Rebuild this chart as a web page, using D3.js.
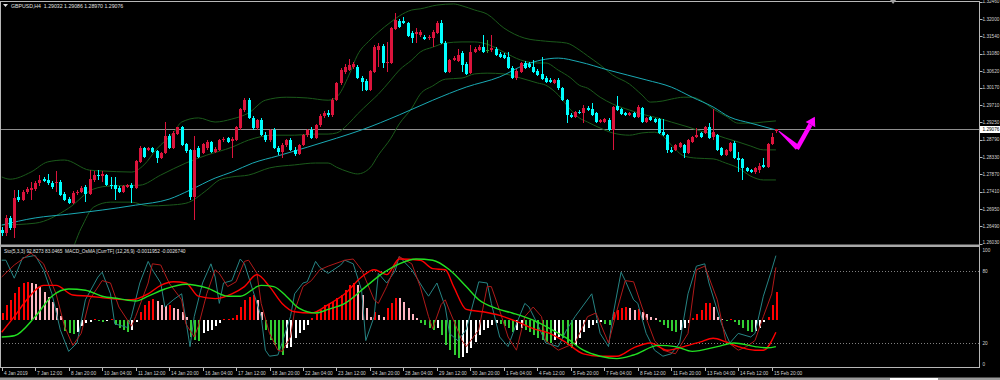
<!DOCTYPE html>
<html>
<head>
<meta charset="utf-8">
<script src="https://cdn.jsdelivr.net/npm/d3@7/dist/d3.min.js"></script>
<style>
html,body{margin:0;padding:0;background:#000;overflow:hidden;}
svg{display:block;}
text{font-family:"Liberation Sans",Arial,sans-serif;}
</style>
</head>
<body>
<svg id="chart" width="1000" height="380"></svg>
<script>
// ---------------- DATA ----------------
const symbolHeader = "GBPUSD,H4  1.29032 1.29086 1.28970 1.29076";
const subHeader = "Sto(5,3,3) 92.8273 83.0465  MACD_OsMA [CurrTF] (12,26,9) -0.0011952 -0.0026740";
const lastPrice = 1.29076;

// [open, high, low, close] per H4 bar
const candles = [
[1.2639,1.2647,1.2623,1.2631],[1.2631,1.2679,1.2623,1.2671],[1.2671,1.2676,1.2639,1.2644],[1.2644,1.2745,1.2617,1.2724],[1.2726,1.2745,1.2713,1.2718],
[1.2718,1.2745,1.2716,1.2740],[1.2740,1.2753,1.2734,1.2748],[1.2745,1.2766,1.2718,1.2750],[1.2748,1.2769,1.2742,1.2764],[1.2764,1.2785,1.2756,1.2772],
[1.2774,1.2780,1.2766,1.2769],[1.2772,1.2788,1.2758,1.2764],[1.2764,1.2769,1.2748,1.2753],[1.2764,1.2796,1.2740,1.2766],[1.2766,1.2772,1.2729,1.2732],
[1.2734,1.2740,1.2716,1.2718],[1.2721,1.2726,1.2708,1.2710],[1.2710,1.2742,1.2708,1.2737],[1.2737,1.2745,1.2732,1.2740],[1.2740,1.2756,1.2737,1.2750],
[1.2753,1.2758,1.2713,1.2734],[1.2734,1.2798,1.2732,1.2774],[1.2772,1.2796,1.2766,1.2785],[1.2785,1.2798,1.2772,1.2782],[1.2782,1.2796,1.2766,1.2788],
[1.2785,1.2788,1.2756,1.2758],[1.2758,1.2780,1.2748,1.2756],[1.2758,1.2780,1.2718,1.2748],[1.2750,1.2756,1.2737,1.2740],[1.2740,1.2758,1.2737,1.2756],
[1.2753,1.2761,1.2750,1.2758],[1.2758,1.2764,1.2710,1.2750],[1.2750,1.2825,1.2748,1.2822],[1.2820,1.2862,1.2817,1.2857],[1.2857,1.2859,1.2830,1.2833],
[1.2852,1.2859,1.2849,1.2857],[1.2857,1.2859,1.2844,1.2846],[1.2849,1.2852,1.2817,1.2830],[1.2830,1.2846,1.2828,1.2844],[1.2844,1.2926,1.2841,1.2889],
[1.2889,1.2894,1.2854,1.2857],[1.2857,1.2902,1.2854,1.2897],[1.2894,1.2913,1.2891,1.2913],[1.2913,1.2915,1.2862,1.2865],[1.2867,1.2870,1.2844,1.2849],
[1.2852,1.2854,1.2718,1.2726],[1.2726,1.2889,1.2665,1.2852],[1.2857,1.2862,1.2830,1.2833],[1.2844,1.2870,1.2841,1.2867],[1.2857,1.2878,1.2852,1.2873],
[1.2873,1.2875,1.2844,1.2846],[1.2846,1.2859,1.2844,1.2854],[1.2852,1.2881,1.2849,1.2878],[1.2878,1.2886,1.2873,1.2881],[1.2883,1.2886,1.2870,1.2873],
[1.2875,1.2886,1.2830,1.2881],[1.2878,1.2915,1.2875,1.2913],[1.2910,1.2963,1.2905,1.2961],[1.2958,1.2990,1.2953,1.2984],[1.2984,1.2990,1.2934,1.2937],
[1.2937,1.2942,1.2905,1.2910],[1.2910,1.2934,1.2905,1.2931],[1.2931,1.2937,1.2889,1.2891],[1.2891,1.2899,1.2873,1.2878],[1.2878,1.2907,1.2873,1.2905],
[1.2905,1.2910,1.2854,1.2857],[1.2857,1.2862,1.2838,1.2846],[1.2846,1.2870,1.2830,1.2865],[1.2865,1.2881,1.2859,1.2878],[1.2878,1.2883,1.2849,1.2852],
[1.2852,1.2859,1.2836,1.2841],[1.2841,1.2867,1.2838,1.2865],[1.2865,1.2894,1.2862,1.2891],[1.2891,1.2907,1.2886,1.2905],[1.2905,1.2913,1.2881,1.2883],
[1.2883,1.2921,1.2881,1.2918],[1.2918,1.2947,1.2913,1.2942],[1.2942,1.2955,1.2937,1.2950],[1.2950,1.2958,1.2939,1.2945],[1.2945,1.2990,1.2939,1.2984],
[1.2984,1.3032,1.2982,1.3030],[1.3030,1.3070,1.3024,1.3064],[1.3059,1.3080,1.3054,1.3072],[1.3064,1.3094,1.3062,1.3078],[1.3072,1.3086,1.3067,1.3080],
[1.3072,1.3078,1.3040,1.3043],[1.3043,1.3048,1.3008,1.3032],[1.3035,1.3040,1.3008,1.3011],[1.3011,1.3064,1.3008,1.3062],[1.3059,1.3131,1.3056,1.3125],
[1.3118,1.3136,1.3072,1.3128],[1.3128,1.3133,1.3070,1.3083],[1.3083,1.3139,1.3059,1.3086],[1.3083,1.3179,1.3080,1.3176],[1.3173,1.3216,1.3171,1.3197],
[1.3195,1.3200,1.3176,1.3179],[1.3195,1.3205,1.3187,1.3189],[1.3189,1.3192,1.3152,1.3155],[1.3163,1.3168,1.3136,1.3149],[1.3160,1.3176,1.3136,1.3165],
[1.3157,1.3171,1.3152,1.3165],[1.3152,1.3157,1.3144,1.3147],[1.3149,1.3157,1.3144,1.3152],[1.3149,1.3171,1.3125,1.3165],[1.3163,1.3195,1.3160,1.3189],
[1.3189,1.3197,1.3133,1.3136],[1.3136,1.3141,1.3056,1.3059],[1.3059,1.3094,1.3056,1.3091],[1.3091,1.3102,1.3088,1.3096],[1.3088,1.3120,1.3086,1.3104],
[1.3110,1.3115,1.3059,1.3078],[1.3080,1.3086,1.3051,1.3054],[1.3056,1.3131,1.3054,1.3112],[1.3112,1.3125,1.3110,1.3120],[1.3118,1.3131,1.3115,1.3125],
[1.3125,1.3157,1.3110,1.3112],[1.3118,1.3144,1.3110,1.3118],[1.3118,1.3157,1.3112,1.3123],[1.3120,1.3125,1.3102,1.3104],[1.3107,1.3112,1.3096,1.3099],
[1.3104,1.3110,1.3094,1.3096],[1.3099,1.3112,1.3067,1.3070],[1.3070,1.3075,1.3040,1.3043],[1.3043,1.3067,1.3038,1.3062],[1.3059,1.3086,1.3056,1.3083],
[1.3083,1.3088,1.3067,1.3070],[1.3080,1.3086,1.3070,1.3072],[1.3072,1.3091,1.3056,1.3059],[1.3062,1.3067,1.3048,1.3051],[1.3054,1.3099,1.3038,1.3040],
[1.3043,1.3048,1.3030,1.3032],[1.3038,1.3043,1.3030,1.3032],[1.3030,1.3040,1.3027,1.3038],[1.3038,1.3043,1.3011,1.3016],[1.3016,1.3019,1.2982,1.2984],
[1.2984,1.2987,1.2923,1.2945],[1.2945,1.2950,1.2937,1.2939],[1.2939,1.2955,1.2937,1.2953],[1.2953,1.2958,1.2947,1.2950],[1.2950,1.2971,1.2923,1.2963],
[1.2963,1.2969,1.2955,1.2958],[1.2961,1.2977,1.2942,1.2945],[1.2950,1.2953,1.2923,1.2926],[1.2926,1.2934,1.2923,1.2931],[1.2926,1.2937,1.2923,1.2934],
[1.2931,1.2937,1.2902,1.2905],[1.2905,1.2969,1.2852,1.2966],[1.2969,1.2995,1.2955,1.2958],[1.2961,1.2963,1.2945,1.2947],[1.2950,1.2953,1.2942,1.2945],
[1.2945,1.2953,1.2942,1.2950],[1.2950,1.2953,1.2937,1.2939],[1.2939,1.2971,1.2937,1.2966],[1.2963,1.2966,1.2923,1.2926],[1.2926,1.2939,1.2923,1.2937],
[1.2939,1.2942,1.2929,1.2931],[1.2934,1.2937,1.2923,1.2926],[1.2934,1.2937,1.2894,1.2897],[1.2899,1.2934,1.2889,1.2891],[1.2891,1.2894,1.2844,1.2852],
[1.2852,1.2859,1.2844,1.2846],[1.2852,1.2867,1.2849,1.2865],[1.2859,1.2873,1.2857,1.2870],[1.2865,1.2867,1.2830,1.2844],[1.2844,1.2881,1.2841,1.2878],
[1.2873,1.2889,1.2870,1.2886],[1.2886,1.2910,1.2883,1.2891],[1.2897,1.2899,1.2883,1.2886],[1.2897,1.2915,1.2894,1.2913],[1.2913,1.2923,1.2881,1.2883],
[1.2886,1.2961,1.2878,1.2899],[1.2891,1.2894,1.2849,1.2852],[1.2857,1.2859,1.2836,1.2838],[1.2838,1.2854,1.2836,1.2852],[1.2849,1.2873,1.2846,1.2870],
[1.2870,1.2875,1.2828,1.2830],[1.2830,1.2846,1.2793,1.2825],[1.2828,1.2830,1.2772,1.2804],[1.2804,1.2806,1.2793,1.2796],[1.2798,1.2801,1.2790,1.2793],
[1.2793,1.2806,1.2788,1.2804],[1.2798,1.2817,1.2790,1.2809],[1.2812,1.2830,1.2804,1.2806],[1.2806,1.2870,1.2804,1.2867],[1.2867,1.2897,1.2865,1.2886],
[1.29032,1.29086,1.28970,1.29076]
];

// Bollinger bands and moving average, [bar, price]
const bbUpper = [[0,1.2780],[2,1.2774],[7,1.2793],[11,1.2820],[15,1.2825],[21,1.2798],[24,1.2796],[31,1.2793],[34,1.2812],[37,1.2854],[41,1.2897],[43,1.2926],[47,1.2937],[51,1.2926],[55,1.2934],[59,1.2950],[63,1.2984],[68,1.2992],[73,1.2990],[78,1.2984],[80,1.2992],[83,1.3051],[85,1.3104],[88,1.3144],[90,1.3165],[93,1.3192],[95,1.3208],[98,1.3224],[100,1.3227],[104,1.3237],[108,1.3240],[110,1.3235],[113,1.3224],[116,1.3213],[120,1.3176],[125,1.3149],[130,1.3141],[135,1.3136],[138,1.3118],[140,1.3102],[143,1.3078],[146,1.3051],[150,1.3027],[153,1.2998],[155,1.2979],[158,1.2982],[160,1.2987],[163,1.2992],[165,1.2992],[167,1.2984],[170,1.2961],[173,1.2942],[176,1.2923],[179,1.2923],[182,1.2926],[185,1.2929]];
const bbMiddle = [[0,1.2652],[8,1.2657],[16,1.2697],[22,1.2748],[26,1.2756],[33,1.2758],[38,1.2785],[44,1.2817],[49,1.2838],[55,1.2859],[59,1.2878],[65,1.2891],[70,1.2891],[75,1.2894],[78,1.2894],[80,1.2897],[83,1.2923],[85,1.2947],[88,1.2979],[90,1.3000],[93,1.3038],[95,1.3064],[98,1.3091],[100,1.3112],[103,1.3125],[106,1.3136],[110,1.3139],[113,1.3139],[116,1.3133],[120,1.3112],[124,1.3091],[128,1.3083],[130,1.3083],[133,1.3064],[136,1.3043],[138,1.3024],[140,1.3016],[143,1.2992],[146,1.2974],[150,1.2958],[153,1.2947],[156,1.2939],[160,1.2926],[164,1.2913],[167,1.2902],[170,1.2894],[173,1.2883],[176,1.2873],[179,1.2862],[182,1.2852],[185,1.2852]];
const bbLower = [[0,1.2527],[4,1.2538],[8,1.2554],[12,1.2554],[16,1.2572],[19,1.2644],[22,1.2700],[26,1.2713],[31,1.2713],[35,1.2703],[40,1.2705],[44,1.2710],[49,1.2745],[52,1.2772],[55,1.2780],[59,1.2785],[64,1.2804],[70,1.2812],[75,1.2817],[78,1.2817],[80,1.2806],[83,1.2793],[85,1.2788],[88,1.2804],[90,1.2838],[93,1.2883],[95,1.2921],[98,1.2963],[100,1.3000],[103,1.3022],[106,1.3040],[110,1.3043],[113,1.3054],[116,1.3056],[120,1.3054],[124,1.3043],[128,1.3030],[130,1.3024],[133,1.2998],[136,1.2958],[138,1.2937],[140,1.2926],[143,1.2910],[146,1.2897],[150,1.2891],[153,1.2897],[156,1.2899],[158,1.2889],[160,1.2865],[163,1.2836],[166,1.2830],[170,1.2828],[173,1.2817],[176,1.2804],[179,1.2782],[182,1.2772],[185,1.2772]];
const maLine = [[0,1.2652],[8,1.2671],[16,1.2681],[24,1.2692],[32,1.2705],[40,1.2721],[45,1.2745],[51,1.2777],[55,1.2793],[60,1.2817],[66,1.2836],[73,1.2859],[80,1.2883],[86,1.2905],[95,1.2945],[103,1.2984],[111,1.3019],[119,1.3046],[125,1.3078],[133,1.3096],[138,1.3086],[145,1.3064],[154,1.3038],[160,1.3019],[165,1.2992],[170,1.2966],[174,1.2939],[179,1.2923],[185,1.2905]];

// forecast arrow, [bar, price]
const arrowPath = [[185.7,1.2902],[190.2,1.2858],[194.3,1.2940]];

// Lower window: Stochastic %K / %D ([bar, value 0-100])
const stochK = [[0,89],[1,89],[3,74],[5,91],[8,93],[10,81],[12,61],[14,31],[16,13],[18,20],[20,56],[23,75],[24,79],[26,61],[27,36],[30,33],[31,42],[33,70],[35,88],[36,81],[38,70],[39,50],[41,56],[43,61],[45,17],[46,42],[48,70],[50,86],[51,75],[52,53],[53,70],[55,72],[57,90],[58,86],[60,64],[62,42],[63,14],[64,9],[66,10],[67,20],[69,42],[70,61],[72,70],[73,71],[75,88],[76,83],[78,78],[81,85],[82,89],[84,86],[86,64],[87,22],[89,42],[90,78],[92,70],[94,80],[95,92],[98,81],[101,64],[102,59],[104,70],[106,50],[107,28],[109,22],[111,31],[114,71],[116,70],[117,53],[119,25],[121,17],[123,36],[125,53],[126,50],[128,36],[130,20],[133,17],[135,31],[137,42],[141,61],[143,28],[145,17],[146,42],[148,79],[149,72],[151,56],[152,53],[154,28],[156,14],[158,9],[160,11],[162,20],[164,61],[166,84],[168,86],[169,70],[172,36],[174,20],[176,28],[179,25],[180,28],[182,59],[184,81],[185,92.8]];
const stochD = [[0,75],[3,85],[7,95],[10,86],[13,61],[15,34],[17,18],[19,28],[21,56],[24,72],[26,70],[28,50],[31,34],[32,42],[35,70],[36,86],[38,85],[40,70],[43,56],[44,36],[46,25],[47,34],[49,61],[51,81],[52,78],[54,67],[56,71],[58,88],[59,89],[61,78],[62,53],[64,28],[66,14],[67,13],[69,25],[70,47],[72,67],[74,72],[76,81],[78,84],[82,89],[84,90],[86,81],[89,56],[90,53],[92,67],[94,84],[95,92],[98,86],[100,67],[102,42],[103,32],[105,52],[106,56],[107,47],[110,22],[111,17],[114,31],[116,67],[117,67],[119,47],[121,25],[123,14],[125,42],[127,50],[129,42],[130,22],[133,14],[137,20],[140,42],[142,45],[145,20],[147,47],[149,72],[151,71],[153,50],[156,22],[158,14],[161,11],[164,28],[166,81],[168,84],[171,56],[173,22],[176,14],[178,17],[180,22],[182,42],[184,61],[185,83]];
// MACD main (red) and signal (green) lines, drawn on the 0-100 window scale
const macdMain = [[0,29],[3,42],[6,56],[10,68],[13,68],[17,60],[21,59],[26,57],[31,56],[35,61],[38,68],[41,71],[44,70],[47,59],[51,57],[55,61],[58,67],[61,77],[64,67],[67,53],[70,46],[74,45],[78,52],[82,61],[86,75],[89,81],[92,77],[95,90],[100,89],[103,82],[106,81],[108,67],[111,48],[115,46],[119,43],[123,38],[127,32],[131,28],[135,20],[139,11],[143,9],[147,9],[151,16],[155,20],[159,14],[163,17],[167,21],[170,24],[173,21],[176,17],[180,14],[182,14],[185,29]];
const macdSignal = [[0,25],[3,26],[8,42],[12,59],[16,65],[20,64],[24,59],[28,57],[32,55],[35,59],[39,65],[44,69],[49,66],[54,59],[57,59],[62,68],[65,67],[68,59],[71,49],[75,45],[78,48],[82,53],[87,67],[91,78],[95,86],[99,90],[103,89],[107,81],[111,67],[114,56],[118,49],[122,45],[127,39],[131,32],[135,24],[139,14],[143,9],[147,7],[151,10],[157,18],[161,17],[165,13],[171,17],[175,20],[180,17],[183,16],[185,17]];
// OsMA histogram per bar
const osma = [
0.00035,0.00075,0.0010,0.00135,0.00165,0.00185,0.0019,0.00185,0.0018,0.00165,
0.0014,0.00115,0.0009,0.0006,0.0002,-0.00055,-0.00065,-0.0007,-0.0006,-0.0003,
-0.00015,-0.0001,0.00005,-0.00005,-0.0001,-0.00005,0.00005,-0.00025,-0.0004,-0.0005,
-0.0006,-0.0005,-0.0001,0.0004,0.00075,0.00095,0.00105,0.00095,0.00075,0.0007,
0.00075,0.0006,0.00055,0.0004,0.00015,-0.00085,-0.001,-0.00105,-0.00065,-0.00055,
-0.0005,-0.0003,-0.00015,0.00005,0.00005,0.0001,0.00025,0.00065,0.001,0.00115,
0.00125,0.001,0.0004,-0.0005,-0.001,-0.00125,-0.0015,-0.00175,-0.0014,-0.00135,
-0.0009,-0.00065,-0.0005,-0.00025,0.0001,0.0003,0.0005,0.00075,0.0008,0.0009,
0.0011,0.00125,0.0015,0.00175,0.00185,0.00175,0.00125,0.0006,0.00015,0.0004,
0.00025,0.00015,0.0006,0.00085,0.0011,0.00108,0.0009,0.0006,0.0003,0.0001,
-0.00015,-0.00025,-0.0004,-0.0005,-0.0004,-0.00075,-0.00125,-0.0015,-0.00175,-0.0019,
-0.00185,-0.00165,-0.0014,-0.0011,-0.00075,-0.0005,-0.0004,-0.00025,-0.00015,-0.0002,
-0.0003,-0.0004,-0.0006,-0.0005,-0.0004,-0.0005,-0.0006,-0.00075,-0.0009,-0.001,
-0.0011,-0.00115,-0.001,-0.00085,-0.0009,-0.00125,-0.0014,-0.00125,-0.0009,-0.0006,
-0.0004,-0.00025,-0.00015,-0.0001,-0.0002,-0.00025,0.0004,0.0005,0.0006,0.00065,
0.0006,0.0005,0.00055,0.0004,0.0003,0.00015,0.0001,-0.0001,-0.00025,-0.0004,
-0.00055,-0.0006,-0.0005,-0.0004,-0.00015,0.0001,0.0003,0.0005,0.00085,0.00085,
0.00065,0.00015,0.00003,-0.00005,0.00003,-0.0001,-0.00025,-0.0004,-0.00055,-0.0006,
-0.00055,-0.0004,-0.0001,0.00015,0.00075,0.0014
];

// axis labels
const priceTicks = ["1.32460","1.32000","1.31540","1.31080","1.30620","1.30170","1.29710","1.29250","1.28790","1.28330","1.27870","1.27410","1.26950","1.26490","1.26030"];
const subTicks = [100, 80, 20, 0];
const subLevels = [80, 20];
const timeTickBars = [0,8,16,24,32,40,48,56,64,72,80,88,96,104,112,120,128,136,144,152,160,168,176,184];
const timeTickLabels = ["4 Jan 2019","7 Jan 12:00","8 Jan 20:00","10 Jan 04:00","11 Jan 12:00","14 Jan 20:00","16 Jan 04:00","17 Jan 12:00","18 Jan 20:00","22 Jan 04:00","23 Jan 12:00","24 Jan 20:00","28 Jan 04:00","29 Jan 12:00","30 Jan 20:00","1 Feb 04:00","4 Feb 12:00","5 Feb 20:00","7 Feb 04:00","8 Feb 12:00","11 Feb 20:00","13 Feb 04:00","14 Feb 12:00","15 Feb 20:00"];
const shiftMarkerBar = 213;

// ---------------- DRAW ----------------
const svg = d3.select("#chart");
svg.append("rect").attr("width",1000).attr("height",380).attr("fill","#000");

const RIGHT = 979.5;
const x = d3.scaleLinear().domain([0,185]).range([1.7,775.9]);
const yP = d3.scaleLinear().domain([1.3246,1.2603]).range([1.7,243.5]);
const yS = d3.scaleLinear().domain([0,100]).range([367,247]);
const yH = d3.scaleLinear().domain([-0.002,0.002]).range([360,280]);
const cx = i => Math.round(x(i));

const defs = svg.append("defs");
defs.append("clipPath").attr("id","clipMain").append("rect").attr("x",1).attr("y",2).attr("width",978).attr("height",242.5);
defs.append("clipPath").attr("id","clipSub").append("rect").attr("x",1).attr("y",247).attr("width",978).attr("height",120);

const gMain = svg.append("g").attr("clip-path","url(#clipMain)");
const gSub = svg.append("g").attr("clip-path","url(#clipSub)");

// current price line
const yLast = Math.round(yP(lastPrice)) + 0.5;
gMain.append("line").attr("x1",0).attr("x2",RIGHT).attr("y1",yLast).attr("y2",yLast)
  .attr("stroke","#8f8f8f").attr("stroke-width",1);

// bands & MA
const lineP = d3.line().x(d=>x(d[0])).y(d=>yP(d[1])).curve(d3.curveMonotoneX);
[bbUpper,bbMiddle,bbLower].forEach(arr=>{
  gMain.append("path").attr("d",lineP(arr)).attr("fill","none").attr("stroke","#1b5a1b").attr("stroke-width",1);
});
gMain.append("path").attr("d",lineP(maLine)).attr("fill","none").attr("stroke","#1aa9b3").attr("stroke-width",1);

// candles
const bullC = "#dc143c", bearC = "#00ffff", dojiC = "#2f9a2f";
const col = d => d[3] > d[0] ? bullC : (d[3] < d[0] ? bearC : dojiC);
const cg = gMain.append("g").attr("shape-rendering","crispEdges");
cg.selectAll("line.wick").data(candles).join("line").attr("class","wick")
  .attr("x1",(d,i)=>cx(i)+0.5).attr("x2",(d,i)=>cx(i)+0.5)
  .attr("y1",d=>yP(d[1])).attr("y2",d=>yP(d[2]))
  .attr("stroke",col).attr("stroke-width",1);
cg.selectAll("rect.body").data(candles).join("rect").attr("class","body")
  .attr("x",(d,i)=>cx(i)-1).attr("width",3)
  .attr("y",d=>yP(Math.max(d[0],d[3])))
  .attr("height",d=>Math.max(1,Math.abs(yP(d[0])-yP(d[3]))))
  .attr("fill",col);

// magenta arrow
(function(){
  const P = arrowPath.map(d=>[x(d[0]), yP(d[1])]);
  const unit=(a,b)=>{const dx=b[0]-a[0],dy=b[1]-a[1],l=Math.hypot(dx,dy);return [dx/l,dy/l];};
  const u1=unit(P[0],P[1]), n1=[-u1[1],u1[0]];
  const u2=unit(P[1],P[2]), n2=[-u2[1],u2[0]];
  const add=(p,v,s)=>[p[0]+v[0]*s,p[1]+v[1]*s];
  const g = svg.append("g").attr("fill","#ff00ff");
  const leg1=[add(P[0],n1,0.5),add(P[1],n1,2.8),add(P[1],n1,-2.8),add(P[0],n1,-0.5)];
  const B = add(P[2],u2,-9);
  const leg2=[add(add(P[1],u2,-1.5),n2,2.2),add(B,n2,2.2),add(B,n2,-2.2),add(add(P[1],u2,-1.5),n2,-2.2)];
  const head=[add(B,n2,5.5),P[2],add(B,n2,-5.5)];
  [leg1,leg2,head].forEach(p=>g.append("polygon").attr("points",p.map(q=>q.join(",")).join(" ")));
})();

// ---- lower window ----
subLevels.forEach(v=>{
  const yy = Math.round(yS(v))+0.5;
  gSub.append("line").attr("x1",0).attr("x2",RIGHT).attr("y1",yy).attr("y2",yy)
    .attr("stroke","#808080").attr("stroke-dasharray","1,2");
});
const h0 = yH(0);
gSub.append("g").attr("shape-rendering","crispEdges")
  .selectAll("rect").data(osma).join("rect")
  .attr("x",(d,i)=>cx(i)).attr("width",2)
  .attr("y",d=>Math.min(yH(d),h0)).attr("height",d=>Math.max(1,Math.abs(yH(d)-h0)))
  .attr("fill",(d,i)=>{const p = i>0?osma[i-1]:0;
     if(d>=0) return d>=p ? "#ff0000" : "#ffb6c1";
     return d<p ? "#32cd32" : "#ffffff";});
const lineS = d3.line().x(d=>x(d[0])).y(d=>yS(d[1]));
const lineSm = d3.line().x(d=>x(d[0])).y(d=>yS(d[1])).curve(d3.curveMonotoneX);
gSub.append("path").attr("d",lineS(stochK)).attr("fill","none").attr("stroke","#268484").attr("stroke-width",1);
gSub.append("path").attr("d",lineS(stochD)).attr("fill","none").attr("stroke","#b01a1a").attr("stroke-width",1);
gSub.append("path").attr("d",lineSm(macdMain)).attr("fill","none").attr("stroke","#ff0000").attr("stroke-width",1.4);
gSub.append("path").attr("d",lineSm(macdSignal)).attr("fill","none").attr("stroke","#22e022").attr("stroke-width",1.4);

// ---- frames ----
const frame = svg.append("g").attr("stroke","#b8b8b8").attr("shape-rendering","crispEdges");
frame.append("line").attr("x1",0).attr("x2",RIGHT).attr("y1",1.5).attr("y2",1.5);
frame.append("line").attr("x1",0.5).attr("x2",0.5).attr("y1",1.5).attr("y2",367.5);
frame.append("line").attr("x1",RIGHT).attr("x2",RIGHT).attr("y1",1.5).attr("y2",367.5);
frame.append("line").attr("x1",0).attr("x2",RIGHT).attr("y1",367.5).attr("y2",367.5);
svg.append("rect").attr("x",0).attr("y",244.5).attr("width",RIGHT).attr("height",2.5).attr("fill","#a8a8a8");
svg.append("rect").attr("x",0).attr("y",377.5).attr("width",1000).attr("height",2.5).attr("fill","#9a9a9a");
svg.append("rect").attr("x",890).attr("y",378).attr("width",48).attr("height",2).attr("fill","#ffffff");

// chart shift marker
const sx = x(shiftMarkerBar);
svg.append("polygon").attr("points",`${sx-3},0 ${sx+3},0 ${sx},4`).attr("fill","#a0a0a0");

// price axis
const txtCol = "#d0d0d0";
const pa = svg.append("g");
pa.selectAll("line").data(priceTicks).join("line")
  .attr("x1",RIGHT).attr("x2",RIGHT+3)
  .attr("y1",d=>Math.round(yP(+d))+0.5).attr("y2",d=>Math.round(yP(+d))+0.5)
  .attr("stroke","#b8b8b8");
pa.selectAll("text").data(priceTicks).join("text")
  .attr("x",982.5).attr("y",d=>Math.min(yP(+d),242)).attr("dy","0.35em")
  .attr("font-size",4.7).attr("fill",txtCol).text(d=>d);
// current price box
svg.append("rect").attr("x",RIGHT+0.5).attr("y",yLast-3.5).attr("width",20).attr("height",7).attr("fill","#ffffff");
svg.append("text").attr("x",982.5).attr("y",yLast).attr("dy","0.35em").attr("font-size",4.7).attr("fill","#000").text(lastPrice.toFixed(5));

// sub window axis
svg.append("g").selectAll("text").data(subTicks).join("text")
  .attr("x",982.5).attr("y",d=>Math.min(Math.max(yS(d),250.5),364))
  .attr("dy","0.35em").attr("font-size",4.7).attr("fill",txtCol).text(d=>d);

// time axis
const ta = svg.append("g");
ta.selectAll("line").data(timeTickBars).join("line")
  .attr("x1",d=>cx(d)+0.5).attr("x2",d=>cx(d)+0.5).attr("y1",367.5).attr("y2",371)
  .attr("stroke","#b8b8b8");
ta.selectAll("text").data(timeTickBars).join("text")
  .attr("x",d=>cx(d)+2).attr("y",374.8).attr("font-size",4.8).attr("fill",txtCol)
  .text((d,i)=>timeTickLabels[i]);

// headers
svg.append("polygon").attr("points","3,4 8,4 5.5,7").attr("fill","#e0e0e0");
svg.append("text").attr("x",11).attr("y",7.6).attr("font-size",5.2).attr("fill","#e0e0e0")
  .style("white-space","pre").text(symbolHeader);
svg.append("text").attr("x",4).attr("y",252.6).attr("font-size",4.8).attr("fill","#e0e0e0")
  .style("white-space","pre").text(subHeader);
</script>
</body>
</html>
